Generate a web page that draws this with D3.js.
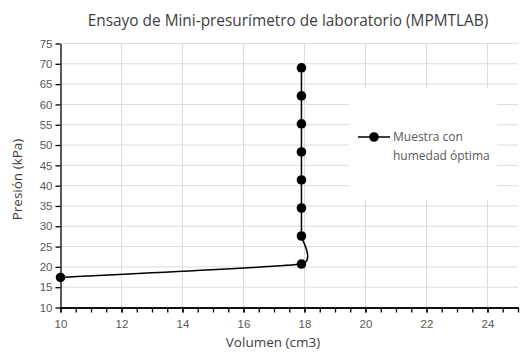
<!DOCTYPE html>
<html>
<head>
<meta charset="utf-8">
<script src="https://cdn.jsdelivr.net/npm/d3@7"></script>
<style>
  body { margin: 0; background: #fff; }
  svg { display: block; font-family: "Open Sans", "Noto Sans", sans-serif; }
</style>
</head>
<body>
<div id="chart"></div>
<script>
// ---------------- DATA ----------------
var volumen = [10, 17.9, 17.9, 17.9, 17.9, 17.9, 17.9, 17.9, 17.9];
var presion = [17.4, 20.7, 27.6, 34.5, 41.4, 48.3, 55.2, 62.1, 69.0];
var xTickLabels = [10, 12, 14, 16, 18, 20, 22, 24];
var yTickLabels = [10, 15, 20, 25, 30, 35, 40, 45, 50, 55, 60, 65, 70, 75];
var serieNombre = ["Muestra con", "humedad óptima"];

var data = volumen.map(function(v, i) { return {x: v, y: presion[i]}; });

// ---------------- SVG AREA ----------------
var W = 520, H = 352;
var margin = {top: 43.5, right: 2, bottom: 44.5, left: 60.5};

var svg = d3.select("#chart")
  .append("svg")
    .attr("width", W)
    .attr("height", H);

var x = d3.scaleLinear()
  .domain([10, 25])
  .range([margin.left, W - margin.right]);

var y = d3.scaleLinear()
  .domain([10, 75])
  .range([H - margin.bottom, margin.top]);

// gridlines
svg.append("g")
  .selectAll("line")
  .data(yTickLabels.slice(1))
  .enter()
  .append("line")
    .attr("x1", x(10)).attr("x2", x(25))
    .attr("y1", function(d) { return y(d); })
    .attr("y2", function(d) { return y(d); })
    .style("stroke", "#dcdcdc")
    .style("stroke-width", 1);

svg.append("g")
  .selectAll("line")
  .data(xTickLabels.slice(1))
  .enter()
  .append("line")
    .attr("x1", function(d) { return x(d); })
    .attr("x2", function(d) { return x(d); })
    .attr("y1", y(10)).attr("y2", y(75))
    .style("stroke", "#dcdcdc")
    .style("stroke-width", 1);

// legend box (hides gridlines behind it)
svg.append("rect")
  .attr("x", 349).attr("y", 88)
  .attr("width", 148).attr("height", 112)
  .style("fill", "#fff");

// ---------------- AXES ----------------
svg.append("g")
  .attr("transform", "translate(" + margin.left + ",0)")
  .call(d3.axisLeft(y).tickValues(yTickLabels).tickSize(5).tickSizeOuter(0).tickPadding(3));

// minor ticks on x
svg.append("g")
  .attr("transform", "translate(0," + y(10) + ")")
  .call(d3.axisBottom(x).tickValues(d3.range(10, 25.01, 0.5)).tickSize(5).tickSizeOuter(0).tickFormat(""));

svg.append("g")
  .attr("transform", "translate(0," + y(10) + ")")
  .call(d3.axisBottom(x).tickValues(xTickLabels).tickSize(5).tickSizeOuter(0).tickPadding(7));

svg.selectAll(".domain, .tick line")
  .style("stroke", "#000")
  .style("stroke-width", 1.3);

svg.selectAll(".tick text")
  .style("font-size", "11.5px")
  .style("fill", "#595959")
  .style("font-family", "inherit");

// ---------------- SERIES ----------------
var line = d3.line()
  .x(function(d) { return x(d.x); })
  .y(function(d) { return y(d.y); })
  .curve(d3.curveCardinal.tension(0.65));

svg.append("path")
  .datum(data)
  .attr("d", line)
  .style("fill", "none")
  .style("stroke", "#000")
  .style("stroke-width", 1.5);

svg.selectAll(".punto")
  .data(data)
  .enter()
  .append("circle")
    .attr("class", "punto")
    .attr("cx", function(d) { return x(d.x); })
    .attr("cy", function(d) { return y(d.y); })
    .attr("r", 4.8)
    .style("fill", "#000");

// ---------------- TEXTS ----------------
svg.append("text")
  .attr("x", 288).attr("y", 26)
  .attr("text-anchor", "middle")
  .style("font-size", "15.4px")
  .style("fill", "#404040")
  .text("Ensayo de Mini-presurímetro de laboratorio (MPMTLAB)");

svg.append("text")
  .attr("x", 273).attr("y", 347)
  .attr("text-anchor", "middle")
  .style("font-size", "13.5px")
  .style("fill", "#404040")
  .text("Volumen (cm3)");

svg.append("text")
  .attr("transform", "translate(22," + ((y(10) + y(75)) / 2 + 4) + ")rotate(-90)")
  .attr("text-anchor", "middle")
  .style("font-size", "13.5px")
  .style("fill", "#404040")
  .text("Presión (kPa)");

// ---------------- LEGEND ----------------
var ly = 137;
svg.append("line")
  .attr("x1", 358).attr("x2", 390)
  .attr("y1", ly).attr("y2", ly)
  .style("stroke", "#000").style("stroke-width", 1.5);
svg.append("circle")
  .attr("cx", 374).attr("cy", ly).attr("r", 4.8)
  .style("fill", "#000");

svg.append("g")
  .selectAll("text")
  .data(serieNombre)
  .enter()
  .append("text")
    .attr("x", 393)
    .attr("y", function(d, i) { return ly + 4 + i * 19; })
    .style("font-size", "12px")
    .style("fill", "#595959")
    .text(function(d) { return d; });
</script>
</body>
</html>
